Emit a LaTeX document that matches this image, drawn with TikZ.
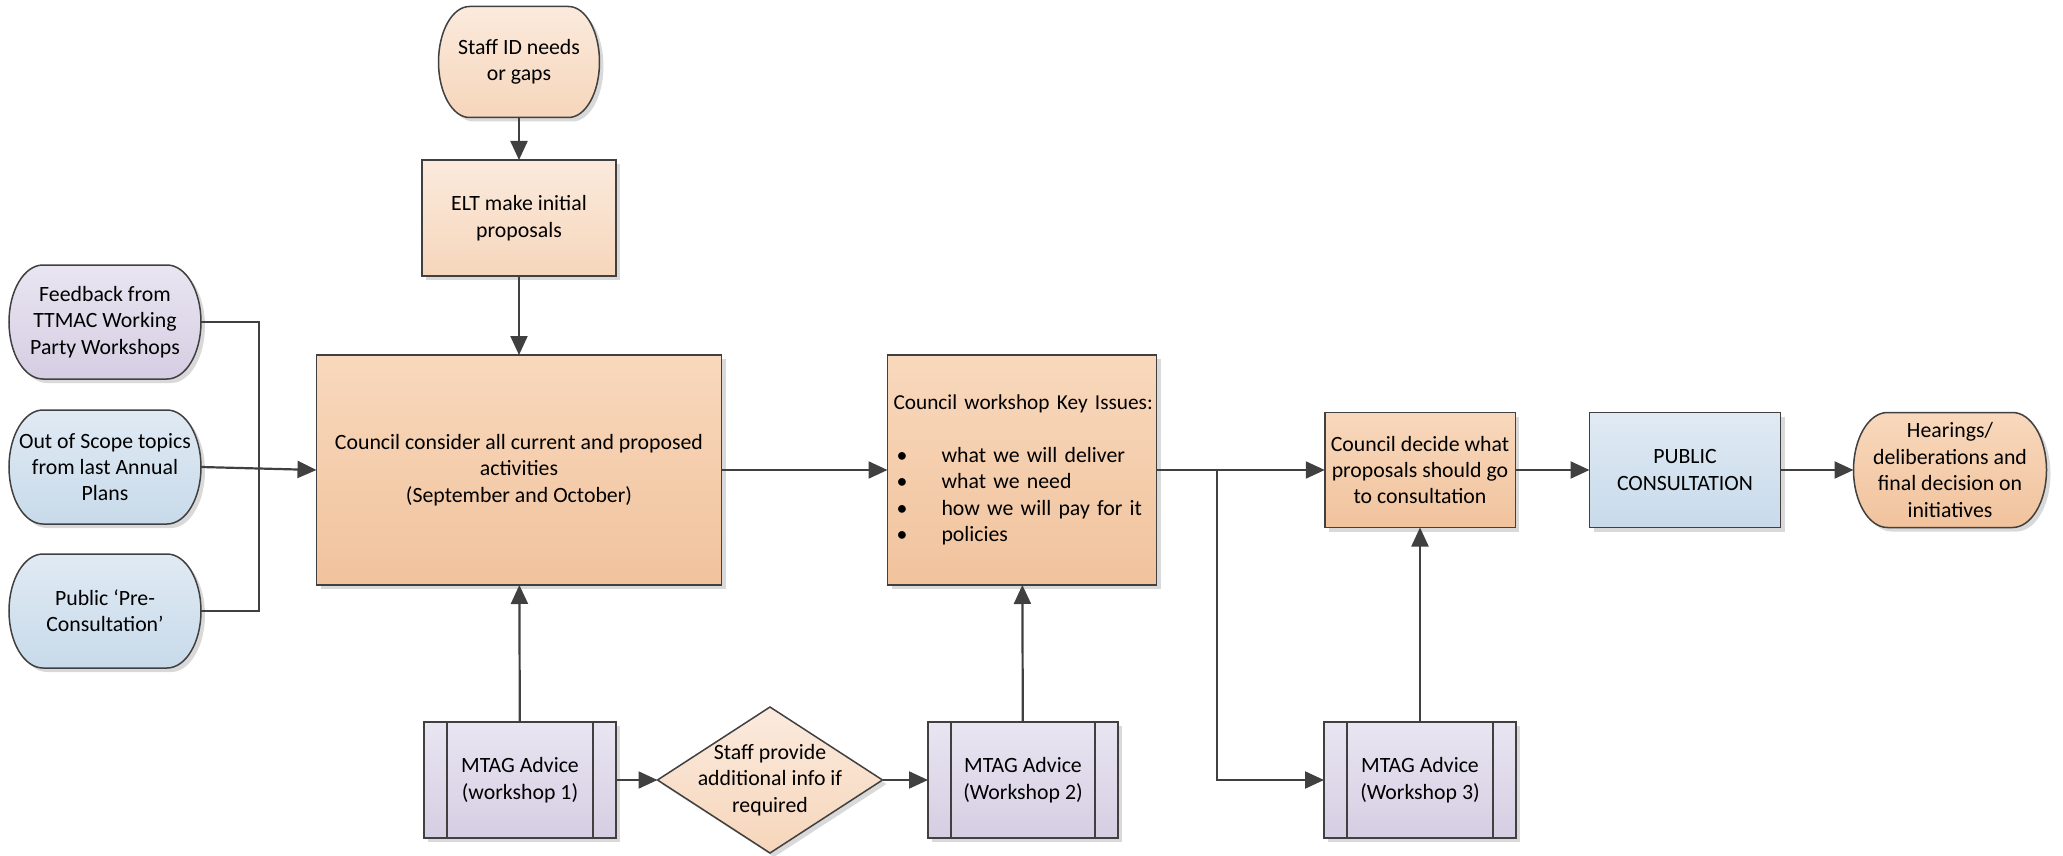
\documentclass[tikz,border=0pt]{standalone}
\usepackage{fontspec}
\setmainfont{Carlito}
\usetikzlibrary{arrows.meta,shadows,calc,shapes.geometric,backgrounds}
\definecolor{lineC}{HTML}{404040}
\definecolor{orLtT}{HTML}{FBEADD}
\definecolor{orLtB}{HTML}{F6D6BB}
\definecolor{orMdT}{HTML}{F8D8BC}
\definecolor{orMdB}{HTML}{F1C39D}
\definecolor{blT}{HTML}{E0EAF4}
\definecolor{blB}{HTML}{C8DAEA}
\definecolor{puT}{HTML}{E9E5F1}
\definecolor{puB}{HTML}{D5CEE3}
\definecolor{shC}{HTML}{D9D9D9}
\newcommand\termpath[2]{%
 ($(#1.north west)+(#2,0)$) -- ($(#1.north east)+(-#2,0)$)
 .. controls ($(#1.north east)+(-0.448*#2,0)$) and ($(#1.east)!0.552!(#1.north east)$) .. (#1.east)
 .. controls ($(#1.east)!0.552!(#1.south east)$) and ($(#1.south east)+(-0.448*#2,0)$) .. ($(#1.south east)+(-#2,0)$)
 -- ($(#1.south west)+(#2,0)$)
 .. controls ($(#1.south west)+(0.448*#2,0)$) and ($(#1.west)!0.552!(#1.south west)$) .. (#1.west)
 .. controls ($(#1.west)!0.552!(#1.north west)$) and ($(#1.north west)+(0.448*#2,0)$) .. ($(#1.north west)+(#2,0)$) -- cycle}
\tikzset{
 outl/.style={draw=lineC, line width=0.75pt, drop shadow={shadow xshift=2pt, shadow yshift=-2pt, fill=shC, opacity=1}},
 orlt/.style={top color=orLtT, bottom color=orLtB},
 ormd/.style={top color=orMdT, bottom color=orMdB},
 blue/.style={top color=blT, bottom color=blB},
 purp/.style={top color=puT, bottom color=puB},
 box/.style={outl, rectangle, inner sep=3pt, outer sep=0pt, align=center},
 holder/.style={rectangle, draw=none, inner sep=0pt, outer sep=0pt},
 txt/.style={align=center, inner sep=0pt},
 conn/.style={draw=lineC, line width=1.1pt, -{Triangle[length=9.5pt,width=8.5pt]}},
 plain/.style={draw=lineC, line width=1.1pt},
}
\begin{document}
\begin{tikzpicture}[x=0.5pt, y=-0.5pt, font=\fontsize{10.9}{13.2}\selectfont]
\useasboundingbox (0,0) rectangle (2063,856);

% terminator holders
\node[holder, minimum width=80.5pt, minimum height=55.5pt] (staff) at (519,62) {};
\node[holder, minimum width=96pt, minimum height=57pt] (fb) at (105,322) {};
\node[holder, minimum width=96pt, minimum height=57pt] (oos) at (105,467) {};
\node[holder, minimum width=96pt, minimum height=57pt] (pub) at (105,611) {};
\node[holder, minimum width=96.5pt, minimum height=57.5pt] (hear) at (1950,470) {};

\begin{scope}[on background layer]
\path[outl, orlt] \termpath{staff}{15.5pt};
\path[outl, purp] \termpath{fb}{17pt};
\path[outl, blue] \termpath{oos}{17pt};
\path[outl, blue] \termpath{pub}{17pt};
\path[outl, ormd] \termpath{hear}{17pt};
\end{scope}

\node[txt] (stafft) at (staff) {Staff ID needs\\or gaps};
\node[txt] (fbt) at (fb) {Feedback from\\TTMAC Working\\Party Workshops};
\node[txt] (oost) at (oos) {Out of Scope topics\\from last Annual\\Plans};
\node[txt] (pubt) at (pub) {Public ‘Pre-\\Consultation’};
\node[txt] (heart) at (hear) {Hearings/\\deliberations and\\final decision on\\initiatives};

% rectangles
\node[box, orlt, minimum width=97pt, minimum height=58pt] (elt) at (519,218) {ELT make initial\\proposals};
\node[box, ormd, minimum width=202.5pt, minimum height=115pt] (cca) at (519,470)
 {Council consider all current and proposed\\activities\\(September and October)};
\node[box, ormd, minimum width=134.5pt, minimum height=115pt, align=left, inner xsep=3pt, text width=128.5pt] (ckw) at (1022,470)
 {\mbox{\fontsize{10.65}{13.2}\selectfont Council workshop Key Issues:}\\[13.2pt]
  \hspace*{1.5pt}\makebox[22.5pt][l]{\textbullet}what we will deliver\\
  \hspace*{1.5pt}\makebox[22.5pt][l]{\textbullet}what we need\\
  \hspace*{1.5pt}\makebox[22.5pt][l]{\textbullet}how we will pay for it\\
  \hspace*{1.5pt}\makebox[22.5pt][l]{\textbullet}policies};
\node[box, ormd, minimum width=94.5pt, minimum height=57.5pt] (cdec) at (1420,470)
 {Council decide what\\proposals should go\\to consultation};
\node[box, blue, minimum width=95.5pt, minimum height=57.5pt] (pubc) at (1685,470)
 {PUBLIC\\CONSULTATION};

% MTAG predefined processes
\node[box, purp, minimum width=96pt, minimum height=58pt] (m1) at (520,780) {MTAG Advice\\(workshop 1)};
\node[box, purp, minimum width=95pt, minimum height=58pt] (m2) at (1023,780) {MTAG Advice\\(Workshop 2)};
\node[box, purp, minimum width=96pt, minimum height=58pt] (m3) at (1420,780) {MTAG Advice\\(Workshop 3)};
\foreach \m in {m1,m2,m3}{
 \draw[draw=lineC, line width=0.75pt] ($(\m.north west)+(11.5pt,0)$) -- ($(\m.south west)+(11.5pt,0)$);
 \draw[draw=lineC, line width=0.75pt] ($(\m.north east)+(-11.5pt,0)$) -- ($(\m.south east)+(-11.5pt,0)$);
}

% decision
\node[outl, orlt, diamond, minimum width=112.5pt, minimum height=73pt, inner sep=0pt, outer sep=0pt] (dia) at (770,780) {};
\node[txt] (diat) at (dia) {Staff provide\\additional info if\\required};

% connectors
\coordinate (mx) at (259,0);
\coordinate (br) at (1217,470);
\draw[conn] (staff) -- (elt);
\draw[conn] (elt) -- (cca);
\draw[plain] (fb.east) -- (fb.east -| mx) -- (pub.east -| mx) -- (pub.east);
\draw[conn] (oos.east) -- (cca.west);
\draw[conn] (cca) -- (ckw);
\draw[conn] (ckw.east) -- (cdec.west);
\draw[conn] (br) |- (m3.west);
\draw[conn] (m3) -- (cdec);
\draw[conn] (cdec) -- (pubc);
\draw[conn] (pubc) -- (hear);
\draw[conn] (m1) -- (cca);
\draw[conn] (m1) -- (dia);
\draw[conn] (dia) -- (m2);
\draw[conn] (m2) -- (ckw);
\end{tikzpicture}
\end{document}
